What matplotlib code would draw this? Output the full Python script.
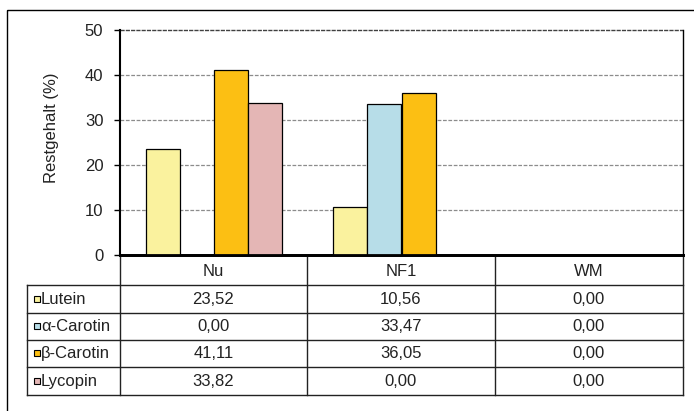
import matplotlib
matplotlib.use("Agg")
import numpy as np
import matplotlib.pyplot as plt
from matplotlib.patches import Rectangle

plt.rcParams['font.family'] = ['Liberation Sans', 'DejaVu Sans']

# data
groups = ['Nu', 'NF1', 'WM']
series = ['Lutein', 'α-Carotin', 'β-Carotin', 'Lycopin']
lutein = [23.52, 10.56, 0.00]
a_carotin = [0.00, 33.47, 0.00]
b_carotin = [41.11, 36.05, 0.00]
lycopin = [33.82, 0.00, 0.00]
colors = ['#FAF29E', '#B7DDE8', '#FCBF13', '#E4B6B5']
values = [lutein, a_carotin, b_carotin, lycopin]

W, H = 694, 411
fs = 12
fig = plt.figure(figsize=(W / 100, H / 100), dpi=100)

# plot area in pixels
L, R, T, B = 120, 683, 30, 255
ax = fig.add_axes([L / W, 1 - B / H, (R - L) / W, (B - T) / H])

x = np.arange(len(groups))
w = 0.182
for i in range(len(series)):
    ax.bar(x + (i - 1.5) * w, values[i], w, color=colors[i],
           edgecolor='black', linewidth=0.9, zorder=3)

ax.set_xlim(-0.5, 2.5)
ax.set_ylim(0, 50)
ax.set_yticks([0, 10, 20, 30, 40, 50])
ax.set_xticks([])
for yv in [10, 20, 30, 40]:
    ax.axhline(yv, color='#8c8c8c', lw=0.9, dashes=(3, 1.3), zorder=1)
ax.axhline(50, color='#404040', lw=1.0, dashes=(3, 0.8), zorder=1, clip_on=False)
ax.spines['top'].set_visible(False)
ax.spines['left'].set_linewidth(1.5)
ax.spines['bottom'].set_linewidth(2)
ax.spines['right'].set_linewidth(1)
ax.tick_params(axis='y', length=4, width=1, pad=8, labelsize=fs, colors='black')
for t in ax.get_yticklabels():
    t.set_color('#222222')

# overlay in pixel coordinates for table, label and border
ov = fig.add_axes([0, 0, 1, 1], zorder=-1)
ov.set_xlim(0, W)
ov.set_ylim(H, 0)
ov.axis('off')
ov2 = fig.add_axes([0, 0, 1, 1], zorder=5)
ov2.set_xlim(0, W)
ov2.set_ylim(H, 0)
ov2.axis('off')
ov2.patch.set_alpha(0)

# outer border
ov.add_patch(Rectangle((7, 10), W + 10, H + 10, fill=False, ec='black', lw=1))

ov2.text(52, 128, 'Restgehalt (%)', rotation=90, ha='center', va='center',
         fontsize=fs, color='#222222')

# table
cols = [120, 307, 495, 683]
rows = [255, 285, 313, 340, 367, 395]
lab_left = 27
lc = '#222222'
for cx in cols:
    ov2.plot([cx, cx], [rows[0], rows[-1]], color=lc, lw=1)
ov2.plot([lab_left, lab_left], [rows[1], rows[-1]], color=lc, lw=1)
ov2.plot([cols[0], cols[-1]], [rows[0], rows[0]], color='black', lw=2)
for ry in rows[1:]:
    ov2.plot([lab_left, cols[-1]], [ry, ry], color=lc, lw=1)

for j, g in enumerate(groups):
    cx = (cols[j] + cols[j + 1]) / 2
    ov2.text(cx, (rows[0] + rows[1]) / 2 + 1, g, ha='center', va='center',
             fontsize=fs, color='#222222')

for i, s in enumerate(series):
    cy = (rows[i + 1] + rows[i + 2]) / 2
    ov2.add_patch(Rectangle((34, cy - 3.5), 6, 6, fc=colors[i], ec='black', lw=0.8))
    ov2.text(41, cy, s, ha='left', va='center', fontsize=fs, color='#222222')
    for j in range(len(groups)):
        cx = (cols[j] + cols[j + 1]) / 2
        ov2.text(cx, cy, f'{values[i][j]:.2f}'.replace('.', ','), ha='center',
                 va='center', fontsize=fs, color='#222222')

fig.savefig('out.png', dpi=100)
